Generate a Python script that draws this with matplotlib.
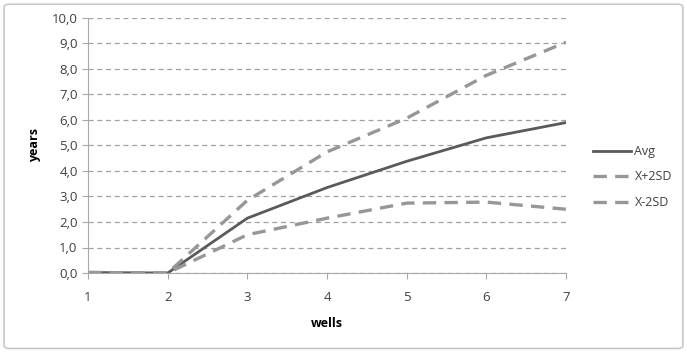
import matplotlib.pyplot as plt
from matplotlib.patches import FancyBboxPatch

plt.rcParams['font.family'] = ['Open Sans', 'DejaVu Sans']

# Data
wells = [1, 2, 3, 4, 5, 6, 7]
avg = [0.02, 0.0, 2.15, 3.35, 4.38, 5.3, 5.9]
plus_2sd = [0.02, 0.0, 2.85, 4.75, 6.07, 7.75, 9.05]
minus_2sd = [0.02, 0.0, 1.5, 2.15, 2.74, 2.78, 2.5]
yticks = [0, 1, 2, 3, 4, 5, 6, 7, 8, 9, 10]

fig = plt.figure(figsize=(6.87, 3.52), dpi=100)
ax = fig.add_axes([88 / 687, 1 - 273 / 352, (566 - 88) / 687, (273 - 18) / 352])

# Light frame around the whole chart
frame = FancyBboxPatch((0.006, 0.01), 0.988, 0.978, boxstyle='round,pad=0,rounding_size=0.008',
                       transform=fig.transFigure, fill=False, edgecolor='#c8c8c8', linewidth=1.2)
fig.patches.append(frame)

ax.plot(wells, avg, color='#5a5a5a', linewidth=2, label='Avg')
ax.plot(wells, plus_2sd, color='#979797', linewidth=2.4, dashes=(4, 2.5), label='X+2SD')
ax.plot(wells, minus_2sd, color='#979797', linewidth=2.4, dashes=(4, 2.5), label='X-2SD')

ax.set_xlim(1, 7)
ax.set_ylim(0, 10)
ax.set_yticks(yticks)
ax.set_yticklabels([f'{v:.1f}'.replace('.', ',') for v in yticks])
ax.set_xticks(wells)
ax.yaxis.grid(True, color='#a0a0a0', linestyle=(0, (4, 3)), linewidth=0.9)
ax.set_axisbelow(True)

for side in ['top', 'right']:
    ax.spines[side].set_visible(False)
for side in ['left', 'bottom']:
    ax.spines[side].set_color('#a8a8a8')
ax.tick_params(colors='#a8a8a8', labelcolor='#404040', labelsize=9.5, length=4, direction='out')
ax.tick_params(axis='x', pad=9)

ax.set_xlabel('wells', fontsize=9, fontweight='bold', labelpad=9)
ax.set_ylabel('years', fontsize=9, fontweight='bold', labelpad=8)

fig.legend(loc='center left', bbox_to_anchor=(582 / 687, 1 - 177 / 352), frameon=False,
           fontsize=9, handlelength=3.0, handletextpad=0.3, labelspacing=1.0,
           labelcolor='#404040')

fig.savefig('out.png', dpi=100)
